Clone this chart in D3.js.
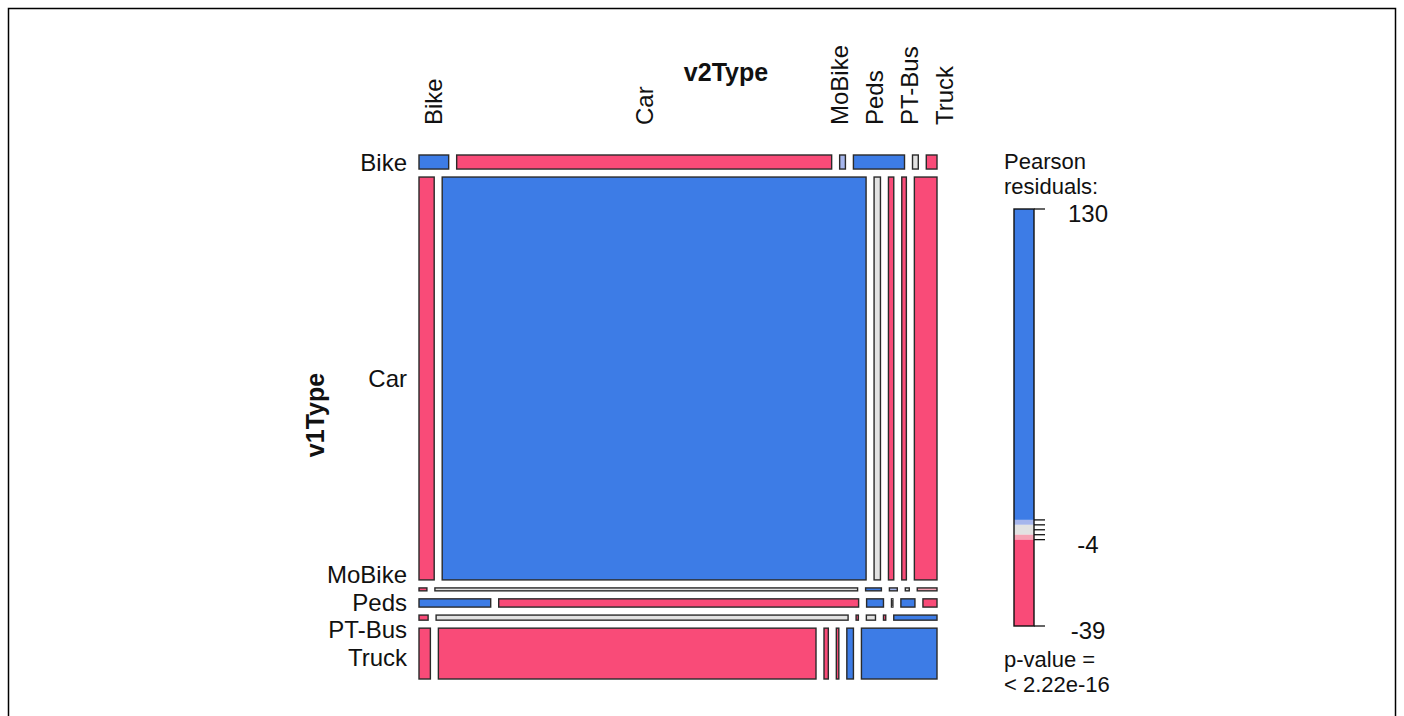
<!DOCTYPE html>
<html>
<head>
<meta charset="utf-8">
<script src="https://cdn.jsdelivr.net/npm/d3@7"></script>
<style>
  body { margin: 0; background: #fff; }
  text { font-family: "Liberation Sans", Arial, sans-serif; fill: #111; }
</style>
</head>
<body>
<svg id="chart" width="1404" height="716"></svg>
<script>
// Levels shared by both variables
const types = ["Bike", "Car", "MoBike", "Peds", "PT-Bus", "Truck"];

// Observed counts per v1Type row, columns in v2Type order
const bikeCounts  = [36, 455, 7, 62, 7, 13];
const carCounts   = [529, 14757, 222, 185, 160, 788];
const mobikeCounts = [2, 107, 4, 2, 1, 5];
const pedsCounts  = [51, 256, 12, 1, 10, 10];
const ptbusCounts = [4, 181, 1, 4, 1, 19];
const truckCounts = [50, 1659, 19, 11, 29, 332];

// Pearson residuals per v1Type row, columns in v2Type order
const bikeResid   = [55, -16, 3, 130, 0.5, -6];
const carResid    = [-25, 15, 0.3, -9, -7, -28];
const mobikeResid = [-5, -1, 8, 3, 1, -3];
const pedsResid   = [45, -16, 10, -1, 12, -5];
const ptbusResid  = [-6, 0.5, -5, 1.5, -4.5, 11];
const truckResid  = [-8, -39, -9, -8, 6, 130];

// Legend scale
const legendDomain = [-39, 130];
const legendTicks = [-4, -2, 0, 2, 4];
const legendLabels = [130, -4, -39];
const legendTitle = ["Pearson", "residuals:"];
const pValueLines = ["p-value =", "< 2.22e-16"];

const counts = [bikeCounts, carCounts, mobikeCounts, pedsCounts, ptbusCounts, truckCounts];
const resid = [bikeResid, carResid, mobikeResid, pedsResid, ptbusResid, truckResid];

const BLUE = "#3d7ce6", LBLUE = "#a6b6ec", GRAY = "#e2e2e2", LRED = "#f6a2b4", RED = "#f94b78";
function shade(r) {
  if (r > 4) return BLUE;
  if (r > 2) return LBLUE;
  if (r < -4) return RED;
  if (r < -2) return LRED;
  return GRAY;
}

const svg = d3.select("#chart");

// page frame
svg.append("rect").attr("x", 8.5).attr("y", 8.5).attr("width", 1387).attr("height", 730)
  .attr("fill", "none").attr("stroke", "#000").attr("stroke-width", 1.5);

// mosaic geometry
const box = { left: 419, right: 937, top: 155, bottom: 679 };
const gap = 8;
const n = types.length;
const rowTotals = counts.map(r => d3.sum(r));
const grand = d3.sum(rowTotals);
const yScale = d3.scaleLinear().domain([0, grand])
  .range([0, (box.bottom - box.top) - gap * (n - 1)]);

const tiles = [];
const rowCenters = [];
let cumRow = 0;
counts.forEach((row, i) => {
  const y = box.top + yScale(cumRow) + gap * i;
  const h = yScale(rowTotals[i]);
  rowCenters.push(y + h / 2);
  const xScale = d3.scaleLinear().domain([0, rowTotals[i]])
    .range([0, (box.right - box.left) - gap * (n - 1)]);
  let cum = 0;
  row.forEach((c, j) => {
    tiles.push({ i, j, x: box.left + xScale(cum) + gap * j, y, w: xScale(c), h, r: resid[i][j] });
    cum += c;
  });
  cumRow += rowTotals[i];
});

svg.append("g").selectAll("rect").data(tiles).join("rect")
  .attr("x", d => d.x).attr("y", d => d.y)
  .attr("width", d => Math.max(d.w, 0.5)).attr("height", d => Math.max(d.h, 0.5))
  .attr("fill", d => shade(d.r))
  .attr("stroke", "#2a2a2a").attr("stroke-width", 1.4);

// spread overlapping labels symmetrically around their clusters
function spread(centers, minGap) {
  let clusters = centers.map(c => ({ sum: c, n: 1 }));
  let merged = true;
  const place = cl => {
    const m = cl.sum / cl.n;
    return d3.range(cl.n).map(k => m - (cl.n - 1) / 2 * minGap + k * minGap);
  };
  while (merged) {
    merged = false;
    for (let k = 0; k < clusters.length - 1; k++) {
      const a = place(clusters[k]), b = place(clusters[k + 1]);
      if (b[0] - a[a.length - 1] < minGap) {
        clusters.splice(k, 2, { sum: clusters[k].sum + clusters[k + 1].sum, n: clusters[k].n + clusters[k + 1].n });
        merged = true;
        break;
      }
    }
  }
  return clusters.flatMap(place);
}

// column labels along the top, from the first row's tiles
const topCenters = tiles.filter(t => t.i === 0).map(t => t.x + t.w / 2);
const topPos = spread(topCenters, 35);
const labelBase = 125;
svg.append("g").selectAll("text").data(types).join("text")
  .attr("transform", (d, k) => `translate(${topPos[k]},${labelBase}) rotate(-90)`)
  .attr("dy", "0.35em")
  .attr("font-size", 24)
  .text(d => d);

// row labels on the left
const leftPos = spread(rowCenters, 27.5);
svg.append("g").selectAll("text").data(types).join("text")
  .attr("x", 407).attr("y", (d, k) => leftPos[k])
  .attr("dy", "0.36em")
  .attr("text-anchor", "end")
  .attr("font-size", 24)
  .text(d => d);

// variable names
svg.append("text").attr("x", 726).attr("y", 72).attr("dy", "0.35em")
  .attr("text-anchor", "middle").attr("font-size", 25).attr("font-weight", "bold")
  .text("v2Type");
svg.append("text").attr("transform", "translate(315,415) rotate(-90)").attr("dy", "0.35em")
  .attr("text-anchor", "middle").attr("font-size", 25).attr("font-weight", "bold")
  .text("v1Type");

// residual legend
const lg = { x: 1014, w: 20, top: 209, bottom: 626 };
const ly = d3.scaleLinear().domain(legendDomain).range([lg.bottom, lg.top]);
const bands = [
  [4, legendDomain[1]], [2, 4], [-2, 2], [-4, -2], [legendDomain[0], -4]
];
svg.append("g").selectAll("rect").data(bands).join("rect")
  .attr("x", lg.x).attr("width", lg.w)
  .attr("y", d => ly(d[1])).attr("height", d => ly(d[0]) - ly(d[1]))
  .attr("fill", d => shade((d[0] + d[1]) / 2));
svg.append("rect").attr("x", lg.x).attr("y", lg.top).attr("width", lg.w)
  .attr("height", lg.bottom - lg.top).attr("fill", "none")
  .attr("stroke", "#111").attr("stroke-width", 1.4);

const tickVals = legendTicks.concat(legendDomain);
svg.append("g").selectAll("line").data(tickVals).join("line")
  .attr("x1", lg.x + lg.w).attr("x2", lg.x + lg.w + 11)
  .attr("y1", d => ly(d)).attr("y2", d => ly(d))
  .attr("stroke", "#111").attr("stroke-width", 1.3);

svg.append("g").selectAll("text").data(legendLabels).join("text")
  .attr("x", 1088).attr("y", d => ly(d)).attr("dy", "0.55em")
  .attr("text-anchor", "middle").attr("font-size", 24)
  .text(d => d);

svg.append("g").selectAll("text").data(legendTitle).join("text")
  .attr("x", 1004).attr("y", (d, k) => 169 + k * 25)
  .attr("font-size", 22)
  .text(d => d);

svg.append("g").selectAll("text").data(pValueLines).join("text")
  .attr("x", 1004).attr("y", (d, k) => 667 + k * 25)
  .attr("font-size", 22)
  .text(d => d);
</script>
</body>
</html>
